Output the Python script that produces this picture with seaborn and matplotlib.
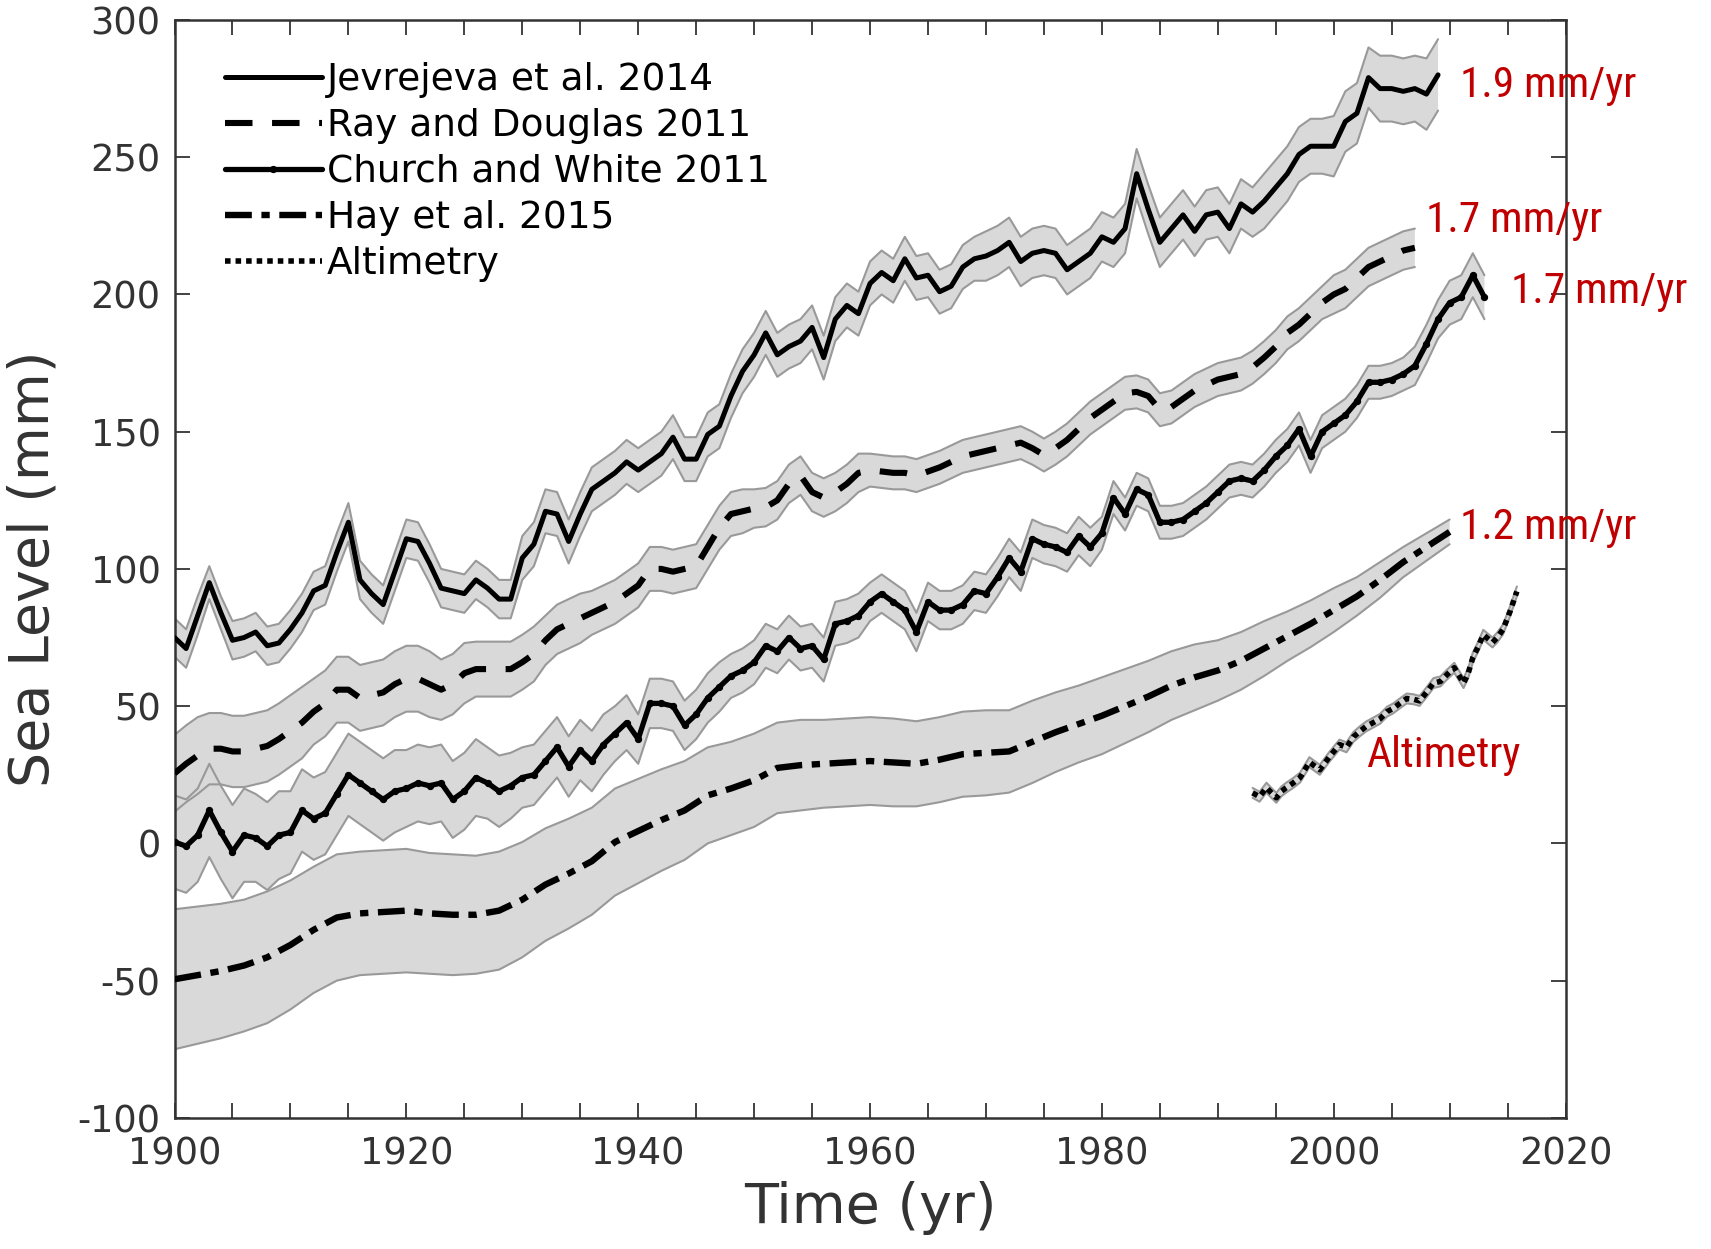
import matplotlib
matplotlib.use('Agg')
import matplotlib.pyplot as plt
import numpy as np
import seaborn as sns
from matplotlib import font_manager as fm
from matplotlib.font_manager import FontProperties
from matplotlib.ticker import MultipleLocator

# Jevrejeva et al. 2014 (annual, mm)
jev_years = np.arange(1900, 2010)
jev_sl = [75, 71, 83, 95, 84, 74, 75, 77, 72, 73,
          78, 84, 92, 94, 106, 117, 96, 91, 87, 99,
          111, 110, 102, 93, 92, 91, 96, 93, 89, 89,
          104, 109, 121, 120, 110, 120, 129, 132, 135, 139,
          136, 139, 142, 148, 140, 140, 149, 152, 163, 172,
          178, 186, 178, 181, 183, 188, 177, 191, 196, 193,
          204, 208, 205, 213, 206, 207, 201, 203, 210, 213,
          214, 216, 219, 212, 215, 216, 215, 209, 212, 215,
          221, 219, 224, 244, 231, 219, 224, 229, 223, 229,
          230, 224, 233, 230, 234, 239, 244, 251, 254, 254,
          254, 263, 266, 279, 275, 275, 274, 275, 273, 280]
jev_err = [7, 7, 7, 6, 6, 7, 7, 7, 7, 7,
           7, 7, 7, 7, 7, 7, 7, 7, 7, 7,
           7, 7, 7, 7, 7, 7, 7, 7, 7, 7,
           8, 8, 8, 8, 8, 8, 8, 8, 8, 8,
           8, 8, 8, 8, 8, 8, 8, 8, 8, 8,
           8, 8, 8, 8, 8, 8, 8, 8, 8, 8,
           8, 8, 8, 8, 8, 8, 8, 8, 8, 8,
           9, 9, 9, 9, 9, 9, 9, 9, 9, 9,
           9, 9, 9, 9, 9, 9, 9, 9, 9, 9,
           9, 9, 9, 9, 10, 10, 10, 10, 10, 10,
           11, 11, 11, 11, 12, 12, 12, 12, 13, 13]

# Ray and Douglas 2011
ray_years = np.arange(1900, 2008)
ray_sl = [25.5, 29, 32, 34.5, 34.5, 33.5, 33.5, 34.5, 35.5, 38,
          41, 44, 48, 51, 56, 56, 53, 54, 55, 58,
          60, 60, 58, 56, 58, 62, 63.5, 63.5, 63.5, 63.5,
          66, 69, 74, 78, 80, 82, 84, 86, 88, 91,
          94, 100, 100, 99, 100, 101, 108, 115, 120, 121,
          122, 122.5, 125, 131, 134, 128, 126, 128, 131, 135,
          136, 135.5, 135, 135, 134, 135.5, 137, 139, 141, 142,
          143, 144, 145, 146, 144, 141.5, 144, 147, 151, 155,
          158, 161, 164, 164.5, 163, 158, 159, 162, 165, 167,
          169, 170, 171, 173.5, 177, 181, 186, 189, 193, 197,
          200, 202, 206, 210, 212, 214, 216, 217]
ray_err = [14, 14, 14, 13, 13, 13, 13, 13, 13, 13,
           13, 13, 12, 12, 12, 12, 12, 12, 12, 12,
           12, 12, 12, 11, 11, 11, 10, 10, 10, 10,
           10, 10, 9, 9, 9, 9, 8, 8, 8, 8,
           8, 8, 8, 8, 8, 8, 8, 8, 8, 8,
           7, 7, 7, 7, 7, 7, 7, 7, 7, 7,
           6, 6, 6, 6, 6, 6, 6, 6, 6, 6,
           6, 6, 6, 6, 6, 6, 6, 6, 6, 6,
           6, 6, 6, 6, 6, 6, 6, 6, 6, 6,
           6, 6, 6, 6, 6, 6, 6, 6, 6, 6,
           7, 7, 7, 7, 7, 7, 7, 7]

# Church and White 2011
cw_years = np.arange(1900, 2014)
cw_sl = [0.5, -1, 3, 12, 4, -3, 3, 2, -1, 3,
         4, 12, 9, 11, 18, 25, 22, 19, 16, 19,
         20, 22, 21, 22, 16, 19, 24, 22, 19, 21,
         24, 25, 30, 35, 28, 34, 30, 36, 40, 44,
         38, 51, 51, 50, 43, 47, 53, 57, 61, 63,
         66, 72, 70, 75, 71, 72, 67, 80, 81, 83,
         88, 91, 88, 85, 77, 88, 85, 85, 87, 92,
         91, 97, 104, 99, 111, 109, 108, 106, 112, 108,
         113, 126, 120, 129, 127, 117, 117, 118, 121, 124,
         128, 132, 133, 132, 136, 141, 145, 151, 141, 150,
         153, 156, 161, 168, 168, 169, 171, 174, 182, 191,
         197, 199, 207, 199]
cw_err = [17, 17, 17, 17, 17, 17, 17, 16, 16, 16,
          15, 15, 15, 15, 15, 15, 15, 15, 15, 15,
          14, 14, 14, 14, 14, 14, 14, 13, 13, 12,
          11, 11, 11, 11, 11, 11, 11, 11, 10, 10,
          9, 9, 9, 9, 9, 9, 9, 9, 8, 8,
          8, 8, 8, 8, 8, 8, 8, 8, 8, 8,
          7, 7, 7, 7, 7, 7, 7, 7, 7, 7,
          7, 7, 7, 7, 7, 7, 7, 7, 7, 7,
          6, 6, 6, 6, 6, 6, 6, 6, 6, 6,
          6, 6, 6, 6, 6, 6, 6, 6, 6, 6,
          6, 6, 6, 6, 6, 6, 6, 7, 7, 7,
          8, 8, 8, 8]

# Hay et al. 2015 (every 2 years)
hay_years = np.arange(1900, 2011, 2)
hay_sl = [-49.5, -48, -46.5, -44.5, -41.5, -37, -31.5, -27, -25.5, -25,
          -24.5, -25.5, -26, -26, -24.5, -20.5, -15, -11, -6.5, 0.5,
          4.5, 8.5, 12, 17.5, 20, 23, 27.5, 28.5, 29, 29.5,
          30, 29.5, 29, 30.5, 32.5, 33, 33.5, 37, 40.5, 43.5,
          46.5, 50, 53.5, 57.5, 60.5, 63, 66.5, 71, 75.5, 80,
          85, 90, 96, 102.5, 108, 113.5]
hay_err = [25.5, 25, 24.5, 24, 24, 23.5, 23, 23, 22.5, 22.5,
           22.5, 22, 22, 21.5, 21.5, 21, 20.5, 20, 19.5, 19.5,
           19, 18.5, 18, 17.5, 17, 17, 16.5, 16.5, 16, 16,
           16, 16, 15.5, 15.5, 15.5, 15.5, 15, 15, 14.5, 14,
           14, 13.5, 13, 12.5, 12, 11, 10.5, 10, 9, 8.5,
           8, 7, 6.5, 5.5, 5, 4.5]

# Altimetry
alt_years = [1993.0, 1993.6, 1994.2, 1994.6, 1995.05, 1995.5, 1995.9, 1996.5,
             1997.1, 1997.9, 1998.8, 1999.6, 2000.5, 2001.1, 2001.7, 2002.3,
             2002.8, 2003.4, 2004.0, 2004.6, 2005.1, 2005.7, 2006.3, 2006.9,
             2007.4, 2008.0, 2008.6, 2009.2, 2009.7, 2010.4, 2011.2, 2011.6,
             2012.0, 2012.5, 2012.9, 2013.7, 2014.1, 2014.6, 2015.2, 2015.8]
alt_sl = [18.4, 17, 20.3, 18.5, 16.6, 19, 20.3, 22,
          24, 29.6, 26.8, 31.4, 36, 35, 38.8, 41,
          42.6, 44, 45.4, 48, 49.1, 51, 52.8, 52.5,
          51.9, 55, 58.4, 59, 61.2, 64, 58.4, 62,
          67.7, 72, 76, 73.2, 75, 77.9, 84.4, 91.8]
alt_err = 1.8

labels = ['Jevrejeva et al. 2014', 'Ray and Douglas 2011', 'Church and White 2011',
          'Hay et al. 2015', 'Altimetry']
rate_texts = ['1.9 mm/yr', '1.7 mm/yr', '1.7 mm/yr', '1.2 mm/yr', 'Altimetry']
rate_pos = [(2010.9, 276), (2008.0, 227), (2015.3, 201), (2010.9, 115), (2002.8, 32)]

sns.set_style('ticks')
plt.rcParams['font.family'] = ['DejaVu Sans']
plt.rcParams['axes.unicode_minus'] = False

# a narrow face for the red rate labels, if one is installed
narrow = None
for key in ('RobotoCondensed-Regular', 'LiberationSansNarrow-Regular',
            'DejaVuSansCondensed.', 'Condensed-Regular', 'Narrow-Regular'):
    hits = [f.fname for f in fm.fontManager.ttflist if key in f.fname]
    if hits:
        narrow = hits[0]
        break
red_font = FontProperties(fname=narrow) if narrow else FontProperties(family='DejaVu Sans')

fig, ax = plt.subplots(figsize=(17.11, 12.49), dpi=100)
fig.subplots_adjust(left=0.102, right=0.915, top=0.984, bottom=0.105)

band_face = '#d9d9d9'
band_edge = '#999999'


def band(x, y, e):
    y = np.asarray(y, dtype=float)
    e = np.asarray(e, dtype=float) * np.ones_like(y)
    ax.fill_between(x, y - e, y + e, facecolor=band_face, edgecolor='none', zorder=1)
    ax.plot(x, y + e, color=band_edge, lw=1.5, zorder=1.5)
    ax.plot(x, y - e, color=band_edge, lw=1.5, zorder=1.5)


band(jev_years, jev_sl, jev_err)
band(ray_years, ray_sl, ray_err)
band(cw_years, cw_sl, cw_err)
band(hay_years, hay_sl, hay_err)
band(alt_years, alt_sl, alt_err)

sns.lineplot(x=jev_years, y=jev_sl, ax=ax, color='black', linewidth=3.6,
             label=labels[0], zorder=3)
sns.lineplot(x=ray_years, y=ray_sl, ax=ax, color='black', linewidth=4.4,
             linestyle=(0, (4.5, 3.2)), label=labels[1], zorder=3)
sns.lineplot(x=cw_years, y=cw_sl, ax=ax, color='black', linewidth=3.8,
             marker='o', markersize=4.5, markeredgecolor='black',
             markerfacecolor='black', label=labels[2], zorder=3)
sns.lineplot(x=hay_years, y=hay_sl, ax=ax, color='black', linewidth=4.6,
             linestyle=(0, (4.2, 1.5, 1.3, 1.5)), label=labels[3], zorder=3)
sns.lineplot(x=alt_years, y=alt_sl, ax=ax, color='black', linewidth=4.0,
             linestyle=(0, (1.0, 0.9)), label=labels[4], zorder=3)

handles, labs = ax.get_legend_handles_labels()
leg = ax.legend(handles, labs, loc='upper left', bbox_to_anchor=(0.036, 0.962),
                frameon=False, fontsize=27, handlelength=2.6, handletextpad=0.12,
                labelspacing=0.27, borderaxespad=0, borderpad=0, labelcolor='black')

texts = []
for txt, (x, y) in zip(rate_texts, rate_pos):
    t = ax.text(x, y, txt, color='#c00000', fontproperties=red_font, fontsize=34,
                ha='left', va='center', zorder=5)
    texts.append(t)

ax.set_xlim(1900, 2020)
ax.set_ylim(-100, 300)
ax.xaxis.set_major_locator(MultipleLocator(20))
ax.xaxis.set_minor_locator(MultipleLocator(5))
ax.yaxis.set_major_locator(MultipleLocator(50))
ax.tick_params(which='both', direction='in', top=True, right=True,
               length=11, width=1.3, color='#333333')
ax.tick_params(axis='both', which='major', labelsize=26.5, labelcolor='#333333')
ax.tick_params(axis='x', which='major', pad=13)
ax.tick_params(axis='y', which='major', pad=10)
for sp in ax.spines.values():
    sp.set_linewidth(1.8)
    sp.set_color('#333333')

ax.set_xlabel('Time (yr)', fontsize=40, color='#333333', labelpad=6)
ax.set_ylabel('Sea Level (mm)', fontsize=40, color='#333333', labelpad=12)

# size the red labels so "1.9 mm/yr" is about as wide as in the original
fig.canvas.draw()
w = texts[0].get_window_extent().width
size = min(36, 34 * 177.0 / w)
for t in texts:
    t.set_fontsize(size)

fig.savefig('out.png', dpi=100)
